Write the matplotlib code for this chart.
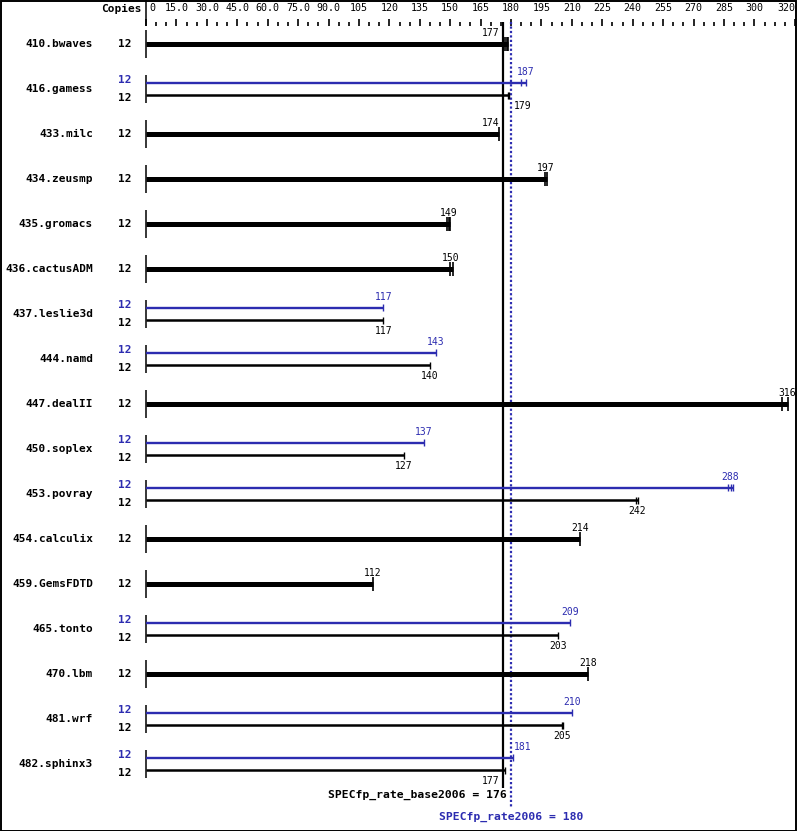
import numpy as np
import matplotlib
matplotlib.use('Agg')
import matplotlib.pyplot as plt
from matplotlib.patches import Rectangle

# benchmark rows, top to bottom
benchmarks = ['410.bwaves', '416.gamess', '433.milc', '434.zeusmp', '435.gromacs',
              '436.cactusADM', '437.leslie3d', '444.namd', '447.dealII', '450.soplex',
              '453.povray', '454.calculix', '459.GemsFDTD', '465.tonto', '470.lbm',
              '481.wrf', '482.sphinx3']
copies = [12] * len(benchmarks)

# base ratio (median) and the individual run marks
base_values = [177, 179, 174, 197, 149, 150, 117, 140, 316, 127, 242, 214, 112, 203, 218, 205, 177]
base_runs = [[177.0, 177.8, 178.6], [178.3, 179.0], [174.0], [196.8, 197.6], [148.3, 149.2, 150.0],
             [150.0, 151.2], [117.0], [140.0], [313.4, 316.6], [127.0], [241.5, 242.4],
             [214.0], [112.0], [203.0], [218.0], [205.0, 205.8], [177.0]]

# peak ratio, None where peak = base (single bar)
peak_values = [None, 187, None, None, None, None, 117, 143, None, 137, 288, None, None, 209, None, 210, 181]
peak_runs = [None, [185.0, 187.3], None, None, None, None, [117.0], [143.0], None, [137.0],
             [287.2, 288.4, 289.4], None, None, [209.0], None, [210.0], [181.0]]

base_score = 176
peak_score = 180

major_ticks = [0, 15, 30, 45, 60, 75, 90, 105, 120, 135, 150, 165, 180, 195, 210, 225,
               240, 255, 270, 285, 300, 320]
major_labels = ['0', '15.0', '30.0', '45.0', '60.0', '75.0', '90.0', '105', '120', '135', '150',
                '165', '180', '195', '210', '225', '240', '255', '270', '285', '300', '320']
minor_ticks = [v for v in range(0, 325, 5) if v not in major_ticks]

# ---------------------------------------------------------------------------
W, H = 799, 831
X0, SX = 146.0, 2.028      # pixel of zero, pixels per unit
Y0, SY = 44.0, 45.0        # pixel of first row, pixels per row
BLUE = '#2c2cb0'
FONT = 'DejaVu Sans Mono'

def py(p):
    # pixel offset -> row units
    return p / SY

def px(p):
    # absolute pixel x -> data x
    return (p - X0) / SX

fig = plt.figure(figsize=(W / 100, H / 100), dpi=100)
ax = fig.add_axes([0, 0, 1, 1])
ax.set_xlim(-X0 / SX, (W - X0) / SX)
ax.set_ylim((H - Y0) / SY, -Y0 / SY)
ax.axis('off')

# top scale
ax.vlines(major_ticks, py(19 - Y0), py(26 - Y0), color='black', lw=1.2)
ax.vlines(minor_ticks, py(22 - Y0), py(26 - Y0), color='black', lw=1.2)
ax.vlines([0], py(0 - Y0), py(26 - Y0), color='black', lw=1.1)
for v, lab in zip(major_ticks, major_labels):
    ha = 'center'
    if v == 0:
        ha = 'left'
        v = px(149)
    elif v == major_ticks[-1]:
        ha = 'right'
    ax.text(v, py(8 - Y0), lab, ha=ha, va='center', fontsize=7.2, family=FONT)
ax.text(px(142), py(9 - Y0), 'Copies', ha='right', va='center', fontsize=8,
        family=FONT, weight='bold')

# overall score lines
ax.vlines([base_score], py(22 - Y0), py(788 - Y0), color='black', lw=1.6)
ax.vlines([peak_score], py(22 - Y0), py(808 - Y0), color=BLUE, lw=1.6,
          linestyle=(0, (1, 1)))


def value_label(v, y, color):
    lo, hi = v - 4.3, v + 4.3
    if lo < peak_score + 0.8 and hi > base_score - 0.8:
        if v >= (base_score + peak_score) / 2:
            ax.text(peak_score + 1.3, y, str(v), ha='left', va='center', fontsize=7,
                    family=FONT, color=color)
        else:
            ax.text(base_score - 1.8, y, str(v), ha='right', va='center', fontsize=7,
                    family=FONT, color=color)
    else:
        ax.text(v, y, str(v), ha='center', va='center', fontsize=7, family=FONT, color=color)


for i, name in enumerate(benchmarks):
    ax.text(px(93), i, name, ha='right', va='center', fontsize=8, family=FONT, weight='bold')
    ax.vlines([0], i - py(14), i + py(14), color='black', lw=1.1)
    if peak_values[i] is None:
        end = max(base_runs[i])
        ax.hlines(i, 0, end, color='black', lw=3.6)
        ax.vlines(base_runs[i], i - py(7), i + py(7), color='black', lw=1.2)
        value_label(base_values[i], i - py(11), 'black')
        ax.text(px(125), i, str(copies[i]), ha='center', va='center', fontsize=8,
                family=FONT, weight='bold')
    else:
        yp, yb = i - py(6.3), i + py(6.3)
        ax.hlines(yp, 0, max(peak_runs[i]), color=BLUE, lw=1.7)
        ax.vlines(peak_runs[i], yp - py(3.5), yp + py(3.5), color=BLUE, lw=1.0)
        ax.hlines(yb, 0, max(base_runs[i]), color='black', lw=1.8)
        ax.vlines(base_runs[i], yb - py(3.5), yb + py(3.5), color='black', lw=1.0)
        value_label(peak_values[i], yp - py(11), BLUE)
        value_label(base_values[i], yb + py(10.5), 'black')
        ax.text(px(125), i - py(9), str(copies[i]), ha='center', va='center', fontsize=8,
                family=FONT, weight='bold', color=BLUE)
        ax.text(px(125), i + py(9), str(copies[i]), ha='center', va='center', fontsize=8,
                family=FONT, weight='bold')

ax.text(base_score + 2, py(795 - Y0), 'SPECfp_rate_base2006 = ' + str(base_score),
        ha='right', va='center', fontsize=8.2, family=FONT, weight='bold')
ax.text(peak_score, py(817 - Y0), 'SPECfp_rate2006 = ' + str(peak_score),
        ha='center', va='center', fontsize=8.2, family=FONT, weight='bold', color=BLUE)

# outer frame
fig.patches.append(Rectangle((0.5 / W, 0.5 / H), 795 / W, 829.5 / H, transform=fig.transFigure,
                             fill=False, edgecolor='black', lw=1.4))

fig.savefig('out.png', dpi=100)
